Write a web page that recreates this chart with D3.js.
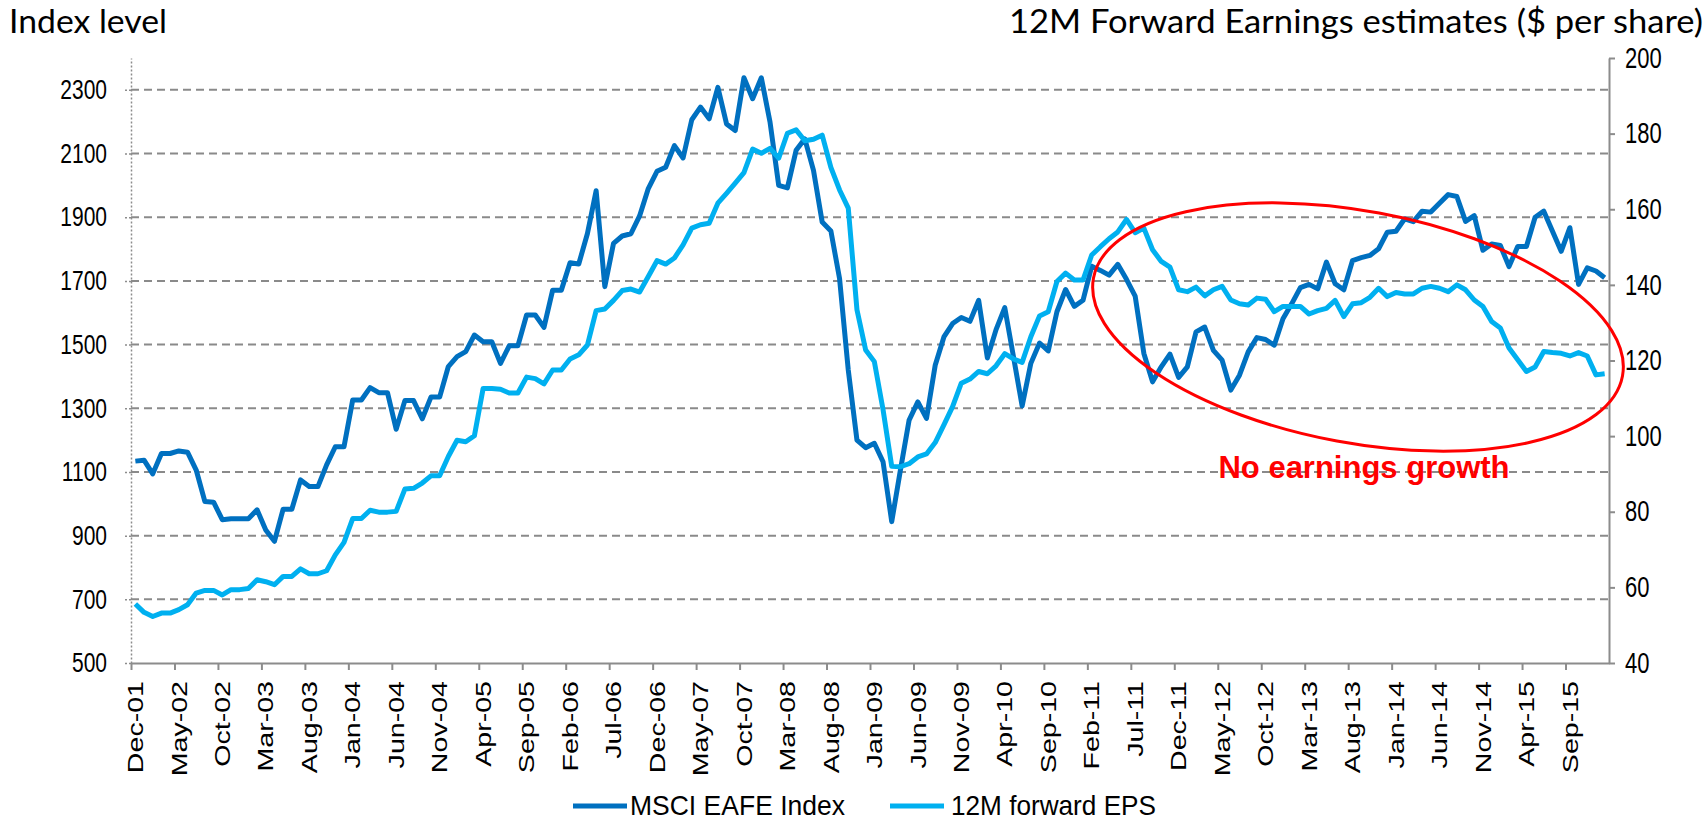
<!DOCTYPE html>
<html>
<head>
<meta charset="utf-8">
<script src="https://cdn.jsdelivr.net/npm/d3@7"></script>
<style>
  body { margin: 0; background: #fff; }
  svg text { font-family: "Liberation Sans", Arial, sans-serif; fill: #000; }
</style>
</head>
<body>
<div id="chart-area"></div>
<script>

// ---- data ----

// months Dec-01 .. Jan-16 (170 categories)
let months = d3.timeMonth.range(new Date(2001, 11, 1), new Date(2016, 1, 1));

// MSCI EAFE index level (left axis)
let msci = [
  1134, 1137, 1094, 1158, 1158, 1166, 1162, 1106, 1007, 1005,
  950, 953, 953, 953, 981, 918, 882, 983, 983, 1075,
  1054, 1054, 1122, 1179, 1179, 1326, 1326, 1365, 1349, 1349,
  1234, 1324, 1324, 1267, 1335, 1335, 1431, 1462, 1478, 1530,
  1509, 1509, 1441, 1496, 1496, 1593, 1593, 1554, 1671, 1671,
  1757, 1753, 1849, 1983, 1682, 1818, 1841, 1848, 1904, 1990,
  2044, 2057, 2125, 2086, 2206, 2246, 2209, 2308, 2193, 2172,
  2338, 2272, 2338, 2199, 2000, 1992, 2110, 2146, 2047, 1885,
  1857, 1707, 1420, 1200, 1176, 1190, 1132, 944, 1106, 1263,
  1320, 1268, 1435, 1524, 1566, 1585, 1573, 1639, 1458, 1547,
  1616, 1462, 1307, 1441, 1505, 1480, 1603, 1673, 1620, 1639,
  1746, 1733, 1718, 1752, 1705, 1652, 1472, 1383, 1430, 1470,
  1397, 1430, 1540, 1555, 1482, 1451, 1357, 1404, 1477, 1522,
  1516, 1498, 1581, 1628, 1679, 1689, 1675, 1759, 1691, 1672,
  1764, 1773, 1780, 1801, 1853, 1856, 1895, 1886, 1919, 1916,
  1944, 1971, 1965, 1887, 1905, 1796, 1816, 1811, 1745, 1808,
  1808, 1900, 1919, 1856, 1793, 1867, 1689, 1741, 1731, 1710
];

// 12M forward EPS (right axis)
let eps = [
  55.6, 53.4, 52.3, 53.2, 53.2, 54.1, 55.4, 58.5, 59.2, 59.2,
  58.0, 59.4, 59.4, 59.7, 62.0, 61.5, 60.7, 62.9, 62.9, 64.9,
  63.6, 63.6, 64.4, 68.6, 71.9, 78.2, 78.2, 80.4, 79.9, 79.9,
  80.1, 86.0, 86.2, 87.6, 89.5, 89.5, 94.6, 98.9, 98.5, 100.1,
  112.6, 112.6, 112.4, 111.4, 111.4, 115.6, 115.2, 113.8, 117.5, 117.5,
  120.4, 121.5, 124.1, 133.2, 133.6, 135.9, 138.5, 138.9, 138.1, 142.2,
  146.4, 145.5, 147.1, 150.6, 155.0, 155.9, 156.3, 161.6, 164.2, 166.9,
  169.7, 175.9, 174.8, 176.1, 173.5, 180.1, 181.0, 178.1, 178.5, 179.6,
  171.1, 165.1, 160.3, 133.4, 122.8, 119.7, 107.0, 92.0, 91.9, 92.7,
  94.5, 95.3, 98.3, 103.0, 107.8, 114.0, 115.1, 117.1, 116.5, 118.6,
  121.8, 120.4, 119.5, 126.3, 131.8, 132.9, 140.9, 143.1, 141.3, 141.3,
  147.9, 150.1, 152.2, 154.0, 157.3, 153.8, 155.0, 149.3, 146.2, 144.7,
  138.7, 138.2, 139.4, 137.1, 138.7, 139.6, 136.0, 135.0, 134.7, 136.5,
  136.2, 132.9, 134.3, 134.3, 134.3, 132.3, 133.2, 133.8, 135.9, 131.6,
  135.0, 135.3, 136.7, 139.1, 136.9, 138.0, 137.6, 137.6, 139.1, 139.6,
  139.1, 138.2, 140.0, 138.7, 136.0, 134.3, 130.3, 128.6, 123.3, 120.2,
  117.1, 118.3, 122.4, 122.1, 121.9, 121.2, 122.1, 121.2, 116.2, 116.5
];

let leftTicks = [500, 700, 900, 1100, 1300, 1500, 1700, 1900, 2100, 2300];
let rightTicks = [40, 60, 80, 100, 120, 140, 160, 180, 200];
let xTickLabels = [
  "Dec-01", "May-02", "Oct-02", "Mar-03", "Aug-03", "Jan-04", "Jun-04", "Nov-04",
  "Apr-05", "Sep-05", "Feb-06", "Jul-06", "Dec-06", "May-07", "Oct-07", "Mar-08",
  "Aug-08", "Jan-09", "Jun-09", "Nov-09", "Apr-10", "Sep-10", "Feb-11", "Jul-11",
  "Dec-11", "May-12", "Oct-12", "Mar-13", "Aug-13", "Jan-14", "Jun-14", "Nov-14",
  "Apr-15", "Sep-15"
];
let seriesNames = ["MSCI EAFE Index", "12M forward EPS"];
let seriesColors = ["#0070C0", "#00B0F0"];

// ---- SVG drawing area ----

let margin = {top: 58, right: 99, bottom: 158, left: 131};
let width = 1708 - margin.left - margin.right,
    height = 821 - margin.top - margin.bottom;

let root = d3.select("#chart-area").append("svg")
    .attr("width", 1708)
    .attr("height", 821);

let svg = root.append("g")
    .attr("transform", "translate(" + margin.left + "," + margin.top + ")");

// stretch factor for axis text (reference text is drawn tall)
let stretch = 1.3;

// Scales
let x = d3.scaleBand()
    .domain(d3.range(months.length))
    .range([0, width]);

let xEdge = d3.scaleLinear()
    .domain([0, months.length])
    .range([0, width]);

let yLeft = d3.scaleLinear()
    .domain([500, 2400])
    .range([height, 0]);

let yRight = d3.scaleLinear()
    .domain([40, 200])
    .range([height, 0]);

// gridlines
svg.append("g").selectAll("line")
    .data(leftTicks.slice(1))
    .enter().append("line")
    .attr("x1", 0)
    .attr("x2", width)
    .attr("y1", d => yLeft(d))
    .attr("y2", d => yLeft(d))
    .attr("stroke", "#8a8a8a")
    .attr("stroke-width", 2)
    .attr("stroke-dasharray", "8,5");

// left axis (dotted)
let leftAxis = svg.append("g")
    .call(d3.axisLeft(yLeft).tickValues(leftTicks).tickFormat(d3.format("d"))
        .tickSize(8).tickPadding(16).tickSizeOuter(0));
leftAxis.select(".domain").attr("stroke", "#8c8c8c").attr("stroke-width", 1.5).attr("stroke-dasharray", "2,2");
leftAxis.selectAll(".tick line").attr("stroke", "#8c8c8c").attr("stroke-width", 1.5).attr("stroke-dasharray", "2,2");
leftAxis.selectAll("text")
    .style("font-size", "21px")
    .attr("transform", "scale(1," + stretch + ")");

// right axis
let rightAxis = svg.append("g")
    .attr("transform", "translate(" + width + ",0)")
    .call(d3.axisRight(yRight).tickValues(rightTicks).tickSize(6).tickPadding(10).tickSizeOuter(0));
rightAxis.select(".domain").attr("stroke", "#8c8c8c").attr("stroke-width", 2);
rightAxis.selectAll(".tick line").attr("stroke", "#8c8c8c").attr("stroke-width", 2);
rightAxis.selectAll("text")
    .style("font-size", "22px")
    .attr("transform", "scale(1," + stretch + ")");

// bottom axis: tick marks between categories, labels on categories
let xTicks = svg.append("g")
    .attr("transform", "translate(0," + height + ")")
    .call(d3.axisBottom(xEdge).tickValues(d3.range(0, months.length, 5)).tickSize(7).tickFormat("").tickSizeOuter(0));
xTicks.select(".domain").attr("stroke", "#8c8c8c").attr("stroke-width", 2);
xTicks.selectAll(".tick line").attr("stroke", "#8c8c8c").attr("stroke-width", 2);

let xLabels = svg.append("g")
    .attr("transform", "translate(0," + height + ")")
    .call(d3.axisBottom(x).tickValues(d3.range(0, months.length, 5))
        .tickFormat(i => xTickLabels[i / 5]).tickSize(0));
xLabels.select(".domain").remove();
xLabels.selectAll("text")
    .style("font-size", "22px")
    .style("text-anchor", "end")
    .attr("x", -18 / stretch)
    .attr("y", 0)
    .attr("dy", "0.35em")
    .attr("transform", "scale(1," + stretch + ") rotate(-90)");

// lines
let lineLeft = d3.line()
    .x((d, i) => x(i) + x.bandwidth() / 2)
    .y(d => yLeft(d));

let lineRight = d3.line()
    .x((d, i) => x(i) + x.bandwidth() / 2)
    .y(d => yRight(d));

svg.append("path")
    .datum(msci)
    .attr("d", lineLeft)
    .attr("fill", "none")
    .attr("stroke", seriesColors[0])
    .attr("stroke-width", 5)
    .attr("stroke-linejoin", "round");

svg.append("path")
    .datum(eps)
    .attr("d", lineRight)
    .attr("fill", "none")
    .attr("stroke", seriesColors[1])
    .attr("stroke-width", 5)
    .attr("stroke-linejoin", "round");

// annotation
root.append("ellipse")
    .attr("cx", 0)
    .attr("cy", 0)
    .attr("rx", 269)
    .attr("ry", 116)
    .attr("transform", "translate(1358,327) rotate(10.5)")
    .attr("fill", "none")
    .attr("stroke", "#ff0000")
    .attr("stroke-width", 3);

root.append("text")
    .attr("x", 1364)
    .attr("y", 478)
    .style("text-anchor", "middle")
    .style("font-size", "31px")
    .style("font-weight", "bold")
    .style("fill", "#ff0000")
    .text("No earnings growth");

// axis titles
root.append("text")
    .attr("x", 9)
    .attr("y", 33)
    .attr("textLength", 158)
    .attr("lengthAdjust", "spacingAndGlyphs")
    .style("font-family", "Lato, 'Open Sans', sans-serif")
    .style("font-size", "33px")
    .text("Index level");

root.append("text")
    .attr("x", 1009)
    .attr("y", 33)
    .attr("textLength", 694)
    .attr("lengthAdjust", "spacingAndGlyphs")
    .style("font-family", "Lato, 'Open Sans', sans-serif")
    .style("font-size", "33px")
    .text("12M Forward Earnings estimates ($ per share)");

// legend
let legendPos = [{line: 573, text: 630, len: 215}, {line: 890, text: 951, len: 205}];
let legend = root.append("g").selectAll("g")
    .data(seriesNames)
    .enter().append("g");

legend.append("line")
    .attr("x1", (d, i) => legendPos[i].line)
    .attr("x2", (d, i) => legendPos[i].line + 54)
    .attr("y1", 806)
    .attr("y2", 806)
    .attr("stroke", (d, i) => seriesColors[i])
    .attr("stroke-width", 5);

legend.append("text")
    .attr("x", (d, i) => legendPos[i].text)
    .attr("y", 815 / 1.12)
    .attr("textLength", (d, i) => legendPos[i].len)
    .attr("lengthAdjust", "spacingAndGlyphs")
    .attr("transform", "scale(1,1.12)")
    .style("font-size", "24px")
    .text(d => d);

</script>
</body>
</html>
